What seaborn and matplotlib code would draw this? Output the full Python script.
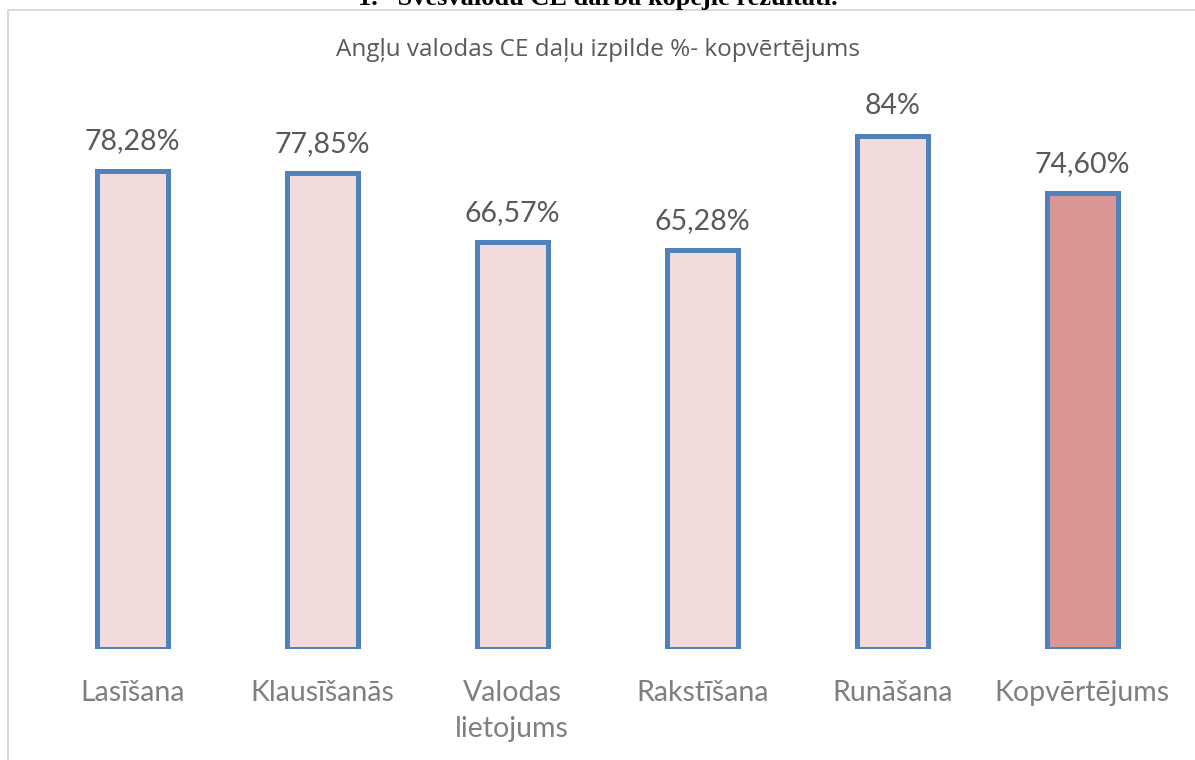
import matplotlib
matplotlib.use("Agg")
import matplotlib.pyplot as plt
from matplotlib.lines import Line2D
import seaborn as sns
import pandas as pd

# chart data
categories = ["Lasīšana", "Klausīšanās", "Valodas\nlietojums", "Rakstīšana", "Runāšana", "Kopvērtējums"]
values = [78.28, 77.85, 66.57, 65.28, 84, 74.60]
value_labels = ["78,28%", "77,85%", "66,57%", "65,28%", "84%", "74,60%"]
bar_colors = ["#F2DCDB", "#F2DCDB", "#F2DCDB", "#F2DCDB", "#F2DCDB", "#D99694"]

title = "Angļu valodas CE daļu izpilde %- kopvērtējums"
heading = "1.   Svešvalodu CE darba kopējie rezultāti."

sns.set_style("white")
plt.rcParams['font.family'] = ['Lato', 'DejaVu Sans']

df = pd.DataFrame({"part": categories, "pct": values})

fig = plt.figure(figsize=(11.95, 7.6), dpi=100)
ax = fig.add_axes([0.0312, 0.146, 0.954, 0.7234])

sns.barplot(data=df, x="part", y="pct", hue="part", palette=bar_colors,
            legend=False, width=0.375, edgecolor="#4F81BD", linewidth=3.6,
            saturation=1, ax=ax)

for cont, lab in zip(ax.containers, value_labels):
    ax.bar_label(cont, labels=[lab], padding=12, fontsize=20.5, color="#595959")

ax.set_ylim(0, 90)
ax.set_xlim(-0.5, len(categories) - 0.5)
ax.set_xlabel("")
ax.set_ylabel("")
ax.set_yticks([])
ax.tick_params(axis="x", length=0, pad=22, labelsize=20.5, labelcolor="#7F7F7F")
for t in ax.get_xticklabels():
    t.set_linespacing(1.5)
sns.despine(ax=ax, left=True, bottom=True)

fig.text(0.5, 1 - 50 / 760, title, ha="center", va="center",
         fontsize=17.5, color="#595959", family=["Open Sans", "DejaVu Sans"])

# document heading cut off at the top edge
fig.text(0.5, 1 - 5 / 760, heading, ha="center", va="baseline",
         fontsize=19, fontweight="bold", color="black",
         family=["Liberation Serif", "DejaVu Serif"])

# chart frame
fig.add_artist(Line2D([8 / 1195, 1], [1 - 9.5 / 760, 1 - 9.5 / 760],
                      transform=fig.transFigure, color="#D9D9D9", lw=1.5))
fig.add_artist(Line2D([8 / 1195, 8 / 1195], [0, 1 - 9.5 / 760],
                      transform=fig.transFigure, color="#D9D9D9", lw=1.5))

fig.savefig("out.png", dpi=100, facecolor="white")
